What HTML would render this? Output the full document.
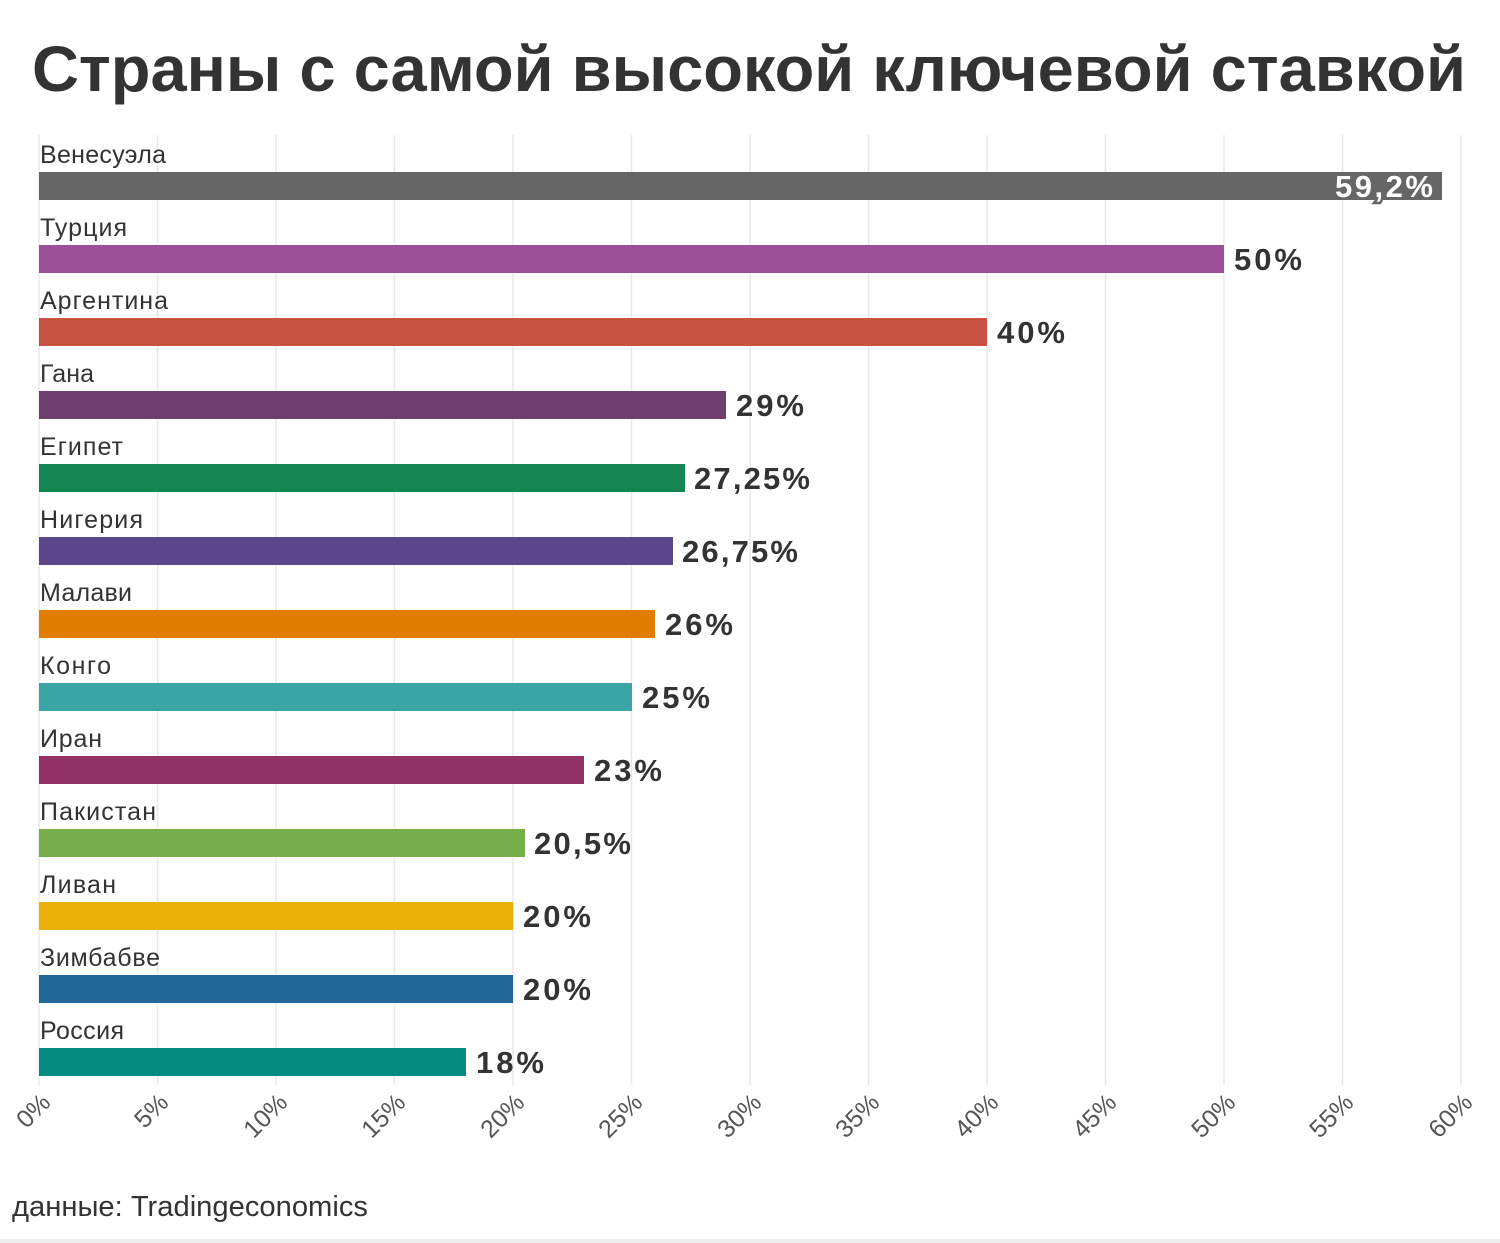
<!DOCTYPE html>
<html><head><meta charset="utf-8"><style>
body{margin:0;background:#fff;}
svg{display:block;font-family:"Liberation Sans","DejaVu Sans",sans-serif;}
</style></head><body>
<svg width="1500" height="1243" viewBox="0 0 1500 1243">
<text x="32" y="91" font-size="64" font-weight="bold" fill="#333" textLength="1434" lengthAdjust="spacingAndGlyphs">Страны с самой высокой ключевой ставкой</text>
<g stroke="#e8e8e8" stroke-width="1.5">
<line x1="39" y1="135" x2="39" y2="1085"/><line x1="157.5" y1="135" x2="157.5" y2="1085"/><line x1="276" y1="135" x2="276" y2="1085"/><line x1="394.5" y1="135" x2="394.5" y2="1085"/><line x1="513" y1="135" x2="513" y2="1085"/><line x1="631.5" y1="135" x2="631.5" y2="1085"/><line x1="750" y1="135" x2="750" y2="1085"/><line x1="868.5" y1="135" x2="868.5" y2="1085"/><line x1="987" y1="135" x2="987" y2="1085"/><line x1="1105.5" y1="135" x2="1105.5" y2="1085"/><line x1="1224" y1="135" x2="1224" y2="1085"/><line x1="1342.5" y1="135" x2="1342.5" y2="1085"/><line x1="1461" y1="135" x2="1461" y2="1085"/>
</g>
<g font-size="25" fill="#333" lengthAdjust="spacingAndGlyphs">
<text x="40" y="163" textLength="126">Венесуэла</text>
<text x="40" y="236" textLength="87">Турция</text>
<text x="40" y="309" textLength="128">Аргентина</text>
<text x="40" y="382" textLength="54">Гана</text>
<text x="40" y="455" textLength="83">Египет</text>
<text x="40" y="528" textLength="103">Нигерия</text>
<text x="40" y="601" textLength="92">Малави</text>
<text x="40" y="674" textLength="71">Конго</text>
<text x="40" y="747" textLength="62">Иран</text>
<text x="40" y="820" textLength="116">Пакистан</text>
<text x="40" y="893" textLength="76">Ливан</text>
<text x="40" y="966" textLength="120">Зимбабве</text>
<text x="40" y="1039" textLength="84">Россия</text>
</g>
<rect x="39" y="172" width="1403" height="28" fill="#666"/>
<rect x="39" y="245" width="1185" height="28" fill="#9a4f96"/>
<rect x="39" y="318" width="948" height="28" fill="#c85242"/>
<rect x="39" y="391" width="687" height="28" fill="#6e3e6e"/>
<rect x="39" y="464" width="646" height="28" fill="#128553"/>
<rect x="39" y="537" width="634" height="28" fill="#5c478c"/>
<rect x="39" y="610" width="616" height="28" fill="#e07c00"/>
<rect x="39" y="683" width="593" height="28" fill="#39a5a4"/>
<rect x="39" y="756" width="545" height="28" fill="#93336a"/>
<rect x="39" y="829" width="486" height="28" fill="#76ae49"/>
<rect x="39" y="902" width="474" height="28" fill="#ebb10a"/>
<rect x="39" y="975" width="474" height="28" fill="#1f6896"/>
<rect x="39" y="1048" width="427" height="28" fill="#068b80"/>
<g font-size="31" font-weight="bold" fill="#333" lengthAdjust="spacingAndGlyphs">
<text x="1335" y="197" fill="#fff" stroke="#666" stroke-width="5" paint-order="stroke" textLength="98">59,2%</text>
<text x="1234" y="270" textLength="68">50%</text>
<text x="997" y="343" textLength="68">40%</text>
<text x="736" y="416" textLength="68">29%</text>
<text x="694" y="489" textLength="116">27,25%</text>
<text x="682" y="562" textLength="116">26,75%</text>
<text x="665" y="635" textLength="68">26%</text>
<text x="642" y="708" textLength="68">25%</text>
<text x="594" y="781" textLength="68">23%</text>
<text x="534" y="854" textLength="97">20,5%</text>
<text x="523" y="927" textLength="68">20%</text>
<text x="523" y="1000" textLength="68">20%</text>
<text x="476" y="1073" textLength="68">18%</text>
</g>
<g font-size="25" fill="#555" text-anchor="end">
<text transform="translate(52,1104) rotate(-45)">0%</text>
<text transform="translate(170,1104) rotate(-45)">5%</text>
<text transform="translate(289,1104) rotate(-45)">10%</text>
<text transform="translate(407,1104) rotate(-45)">15%</text>
<text transform="translate(526,1104) rotate(-45)">20%</text>
<text transform="translate(644,1104) rotate(-45)">25%</text>
<text transform="translate(763,1104) rotate(-45)">30%</text>
<text transform="translate(881,1104) rotate(-45)">35%</text>
<text transform="translate(1000,1104) rotate(-45)">40%</text>
<text transform="translate(1118,1104) rotate(-45)">45%</text>
<text transform="translate(1237,1104) rotate(-45)">50%</text>
<text transform="translate(1355,1104) rotate(-45)">55%</text>
<text transform="translate(1474,1104) rotate(-45)">60%</text>
</g>
<text x="12" y="1216" font-size="29" fill="#333" textLength="356" lengthAdjust="spacingAndGlyphs">данные: Tradingeconomics</text>
<rect x="0" y="1239" width="1500" height="4" fill="#eee"/>
</svg>
</body></html>
